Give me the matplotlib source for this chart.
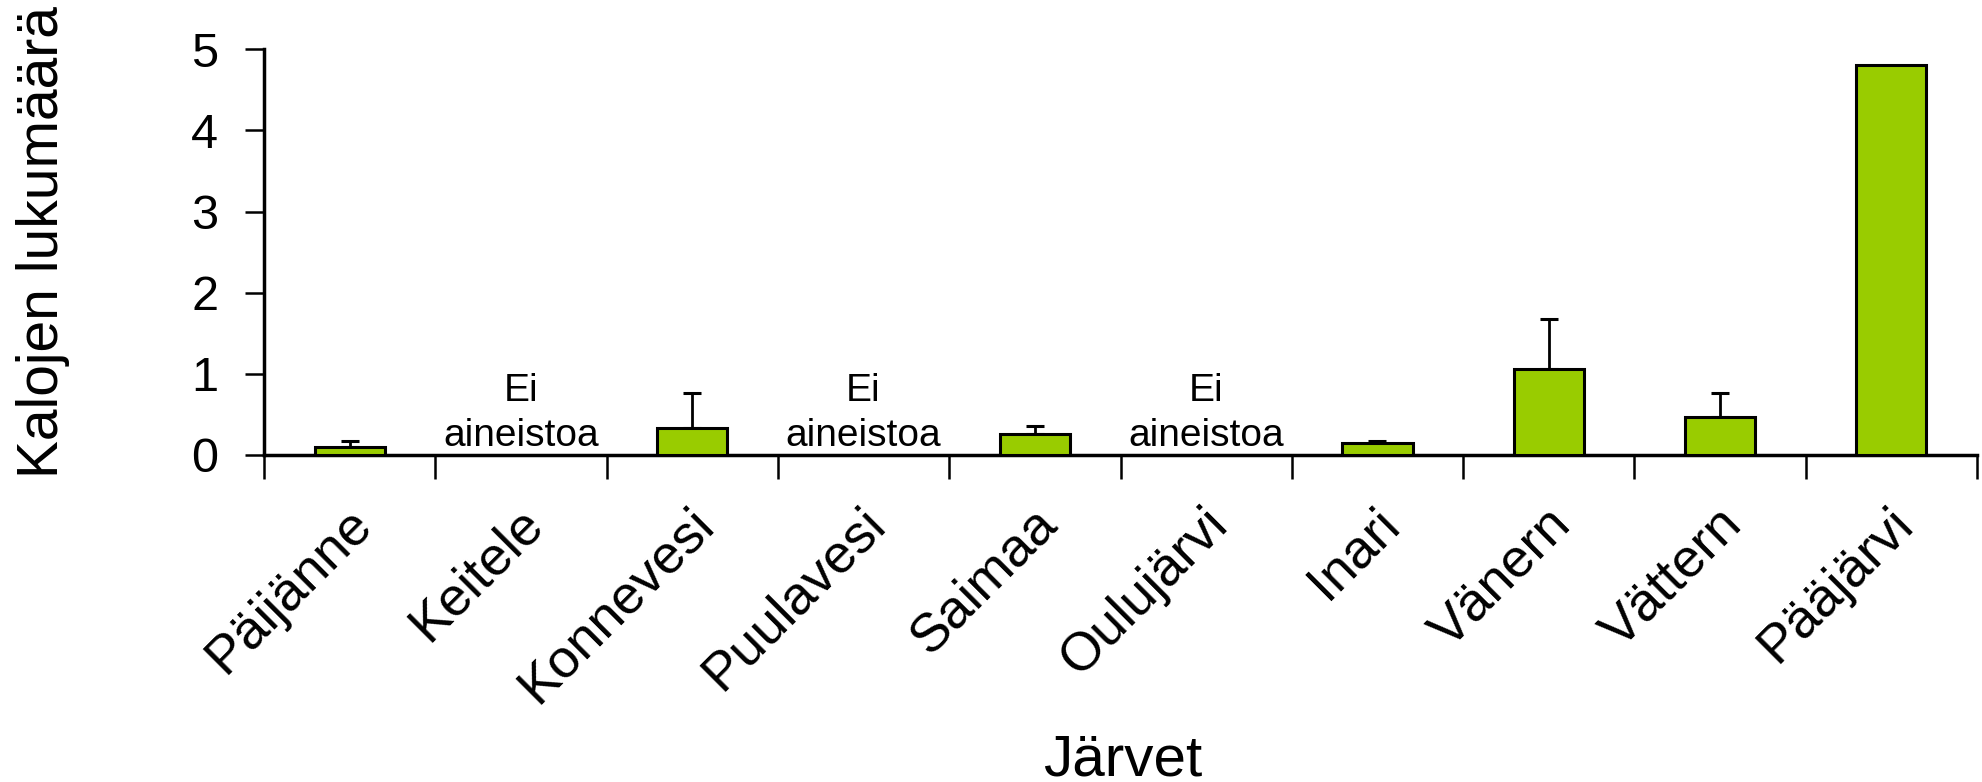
import numpy as np
import matplotlib
matplotlib.use("Agg")
import matplotlib.pyplot as plt
import matplotlib.transforms as mtransforms

plt.rcParams['font.family'] = ['Liberation Sans', 'DejaVu Sans']

lakes = ["Päijänne", "Keitele", "Konnevesi", "Puulavesi", "Saimaa",
         "Oulujärvi", "Inari", "Vänern", "Vättern", "Pääjärvi"]
counts = [0.10, np.nan, 0.33, np.nan, 0.26, np.nan, 0.145, 1.06, 0.47, 4.81]
errors = [0.07, np.nan, 0.43, np.nan, 0.10, np.nan, 0.03, 0.62, 0.30, np.nan]
no_data_text = ["Ei", "aineistoa"]
yticks = [0, 1, 2, 3, 4, 5]
xlabel = "Järvet"
ylabel = "Kalojen lukumäärä"

bar_color = "#99CC00"

fig = plt.figure(figsize=(19.82, 7.82), dpi=100)
ax = fig.add_axes([264/1982, 1-455/782, (1977-264)/1982, (455-49.3)/782])

x = np.arange(len(lakes))
vals = np.array(counts, dtype=float)
errs = np.array(errors, dtype=float)

has_val = ~np.isnan(vals)
ax.bar(x[has_val], vals[has_val], width=0.41, color=bar_color,
       edgecolor="black", linewidth=2.2, zorder=3)

has_err = has_val & ~np.isnan(errs)
ax.errorbar(x[has_err], vals[has_err],
            yerr=[np.zeros(has_err.sum()), errs[has_err]],
            fmt='none', ecolor='black', elinewidth=2.0, capsize=6.5,
            capthick=2.2, zorder=2)

for i in x[~has_val]:
    ax.text(i, 0.67, no_data_text[0], ha='center', va='baseline', fontsize=28)
    ax.text(i, 0.11, no_data_text[1], ha='center', va='baseline', fontsize=28)

ax.set_xlim(-0.5, len(lakes) - 0.5)
ax.set_ylim(0, 5)
ax.set_yticks(yticks)
ax.set_yticklabels([str(t) for t in yticks])

ax.set_xticks(np.arange(-0.5, len(lakes), 1))
ax.set_xticklabels([])
ax.set_xticks(x, minor=True)
ax.set_xticklabels(lakes, minor=True, rotation=45, ha='right', va='center',
                   rotation_mode='anchor', fontsize=39)

ax.tick_params(axis='x', which='major', direction='out', length=17, width=1.8)
ax.tick_params(axis='x', which='minor', length=0, pad=44)
ax.tick_params(axis='y', direction='out', length=14, width=1.8, labelsize=35, pad=19)

offset = mtransforms.ScaledTranslation(14/100, 0, fig.dpi_scale_trans)
for lab in ax.get_xticklabels(minor=True):
    lab.set_transform(lab.get_transform() + offset)

for s in ['top', 'right']:
    ax.spines[s].set_visible(False)
for s in ['left', 'bottom']:
    ax.spines[s].set_linewidth(2.5)

ax.set_ylabel(ylabel, fontsize=41, va='center')
ax.yaxis.set_label_coords((43-264)/1713, 0.525)
ax.set_xlabel(xlabel, fontsize=42, va='baseline')
ax.xaxis.set_label_coords((1123-264)/1713, (455-775)/(455-49.3))

fig.savefig("out.png", dpi=100)
